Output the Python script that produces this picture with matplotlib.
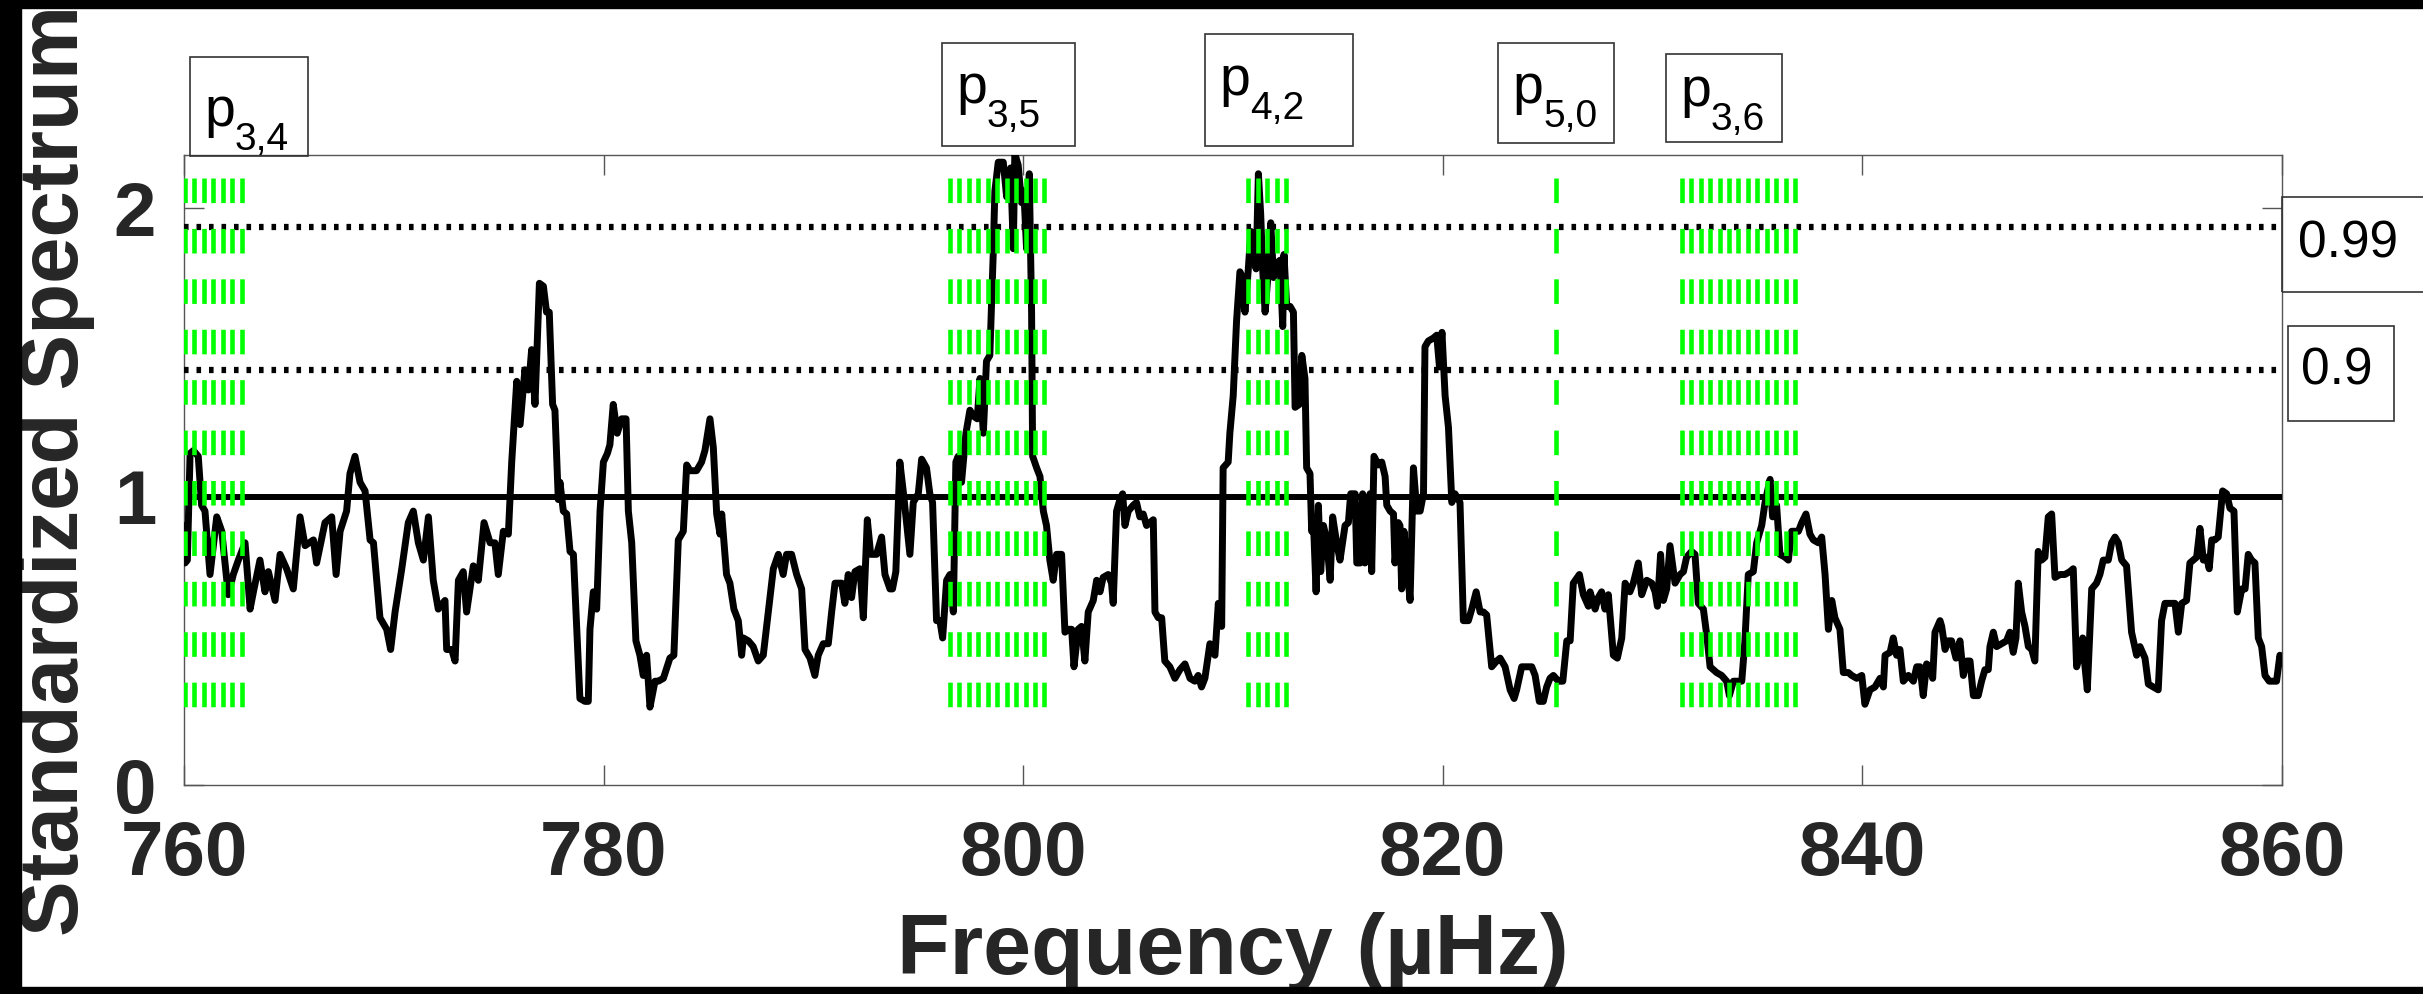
import numpy as np
import matplotlib
matplotlib.use('Agg')
import matplotlib.pyplot as plt
from matplotlib.patches import Rectangle

plt.rcParams['font.family'] = ['Liberation Sans', 'DejaVu Sans']
plt.rcParams['lines.scale_dashes'] = False

# standardized spectrum
freq = [760.00, 760.05, 760.16, 760.29, 760.45, 760.68, 760.84, 761.00, 761.24, 761.56, 761.80, 762.11, 762.35, 762.59,
        762.91, 763.15, 763.31, 763.62, 763.86, 764.02, 764.34, 764.58, 764.89, 765.21, 765.53, 765.77, 766.17, 766.32,
        766.72, 767.04, 767.25, 767.44, 767.75, 767.91, 768.15, 768.39, 768.63, 768.87, 769.03, 769.34, 769.66, 769.85,
        770.06, 770.38, 770.69, 770.93, 771.17, 771.41, 771.65, 771.88, 772.12, 772.44, 772.52, 772.76, 772.92, 773.08,
        773.31, 773.47, 773.79, 774.03, 774.30, 774.59, 774.82, 774.98, 775.22, 775.46, 775.62, 775.86, 776.02, 776.25,
        776.41, 776.57, 776.73, 776.94,
        777.13, 777.28, 777.41, 777.57, 777.68, 777.84, 777.92, 778.08, 778.24, 778.40, 778.56, 778.87, 779.11, 779.27,
        779.35, 779.51, 779.67, 779.83, 779.99, 780.18, 780.30, 780.46, 780.65, 780.86, 781.07, 781.18, 781.34, 781.54,
        781.73, 781.89, 782.05, 782.21, 782.45, 782.61, 782.85, 783.16, 783.35, 783.56, 783.80, 783.96, 784.12, 784.43,
        784.67, 784.83, 785.07, 785.23, 785.39, 785.55, 785.63, 785.86, 786.02, 786.21, 786.42, 786.58, 786.66, 786.90,
        787.13, 787.37, 787.61, 787.85, 788.09, 788.33, 788.56, 788.72, 788.96, 789.20, 789.44, 789.60, 789.84, 790.07,
        790.23, 790.47, 790.71, 790.87, 791.03, 791.35, 791.50, 791.66, 791.82, 791.98, 792.22, 792.38, 792.57, 792.73,
        793.01, 793.25, 793.41, 793.65,
        793.77, 793.93, 794.12, 794.28, 794.44, 794.60, 794.76, 795.00, 795.16, 795.39, 795.55, 795.68, 795.87, 796.03,
        796.16, 796.35, 796.51, 796.67, 796.79, 796.90, 797.06, 797.27, 797.46, 797.62, 797.81, 797.94, 798.10, 798.25,
        798.41, 798.57, 798.65, 798.81, 799.05, 799.21, 799.40, 799.53, 799.60, 799.76, 799.92, 800.03, 800.16, 800.29,
        800.40, 800.45, 800.64, 800.80, 800.96, 801.11, 801.27, 801.43, 801.59, 801.83, 801.99, 802.15, 802.31, 802.42,
        802.62, 802.78, 802.94, 803.10, 803.34, 803.50, 803.66, 803.81, 804.05, 804.21, 804.29, 804.45, 804.61, 804.74,
        804.85, 805.01, 805.24, 805.40, 805.56, 805.72, 805.88, 806.04, 806.20, 806.28, 806.44, 806.60, 806.75, 806.99,
        807.23, 807.47, 807.71, 807.95, 808.18, 808.34, 808.50, 808.66, 808.90, 809.14, 809.30, 809.46, 809.53, 809.77,
        809.85, 810.01, 810.17, 810.33,
        810.46, 810.57, 810.73, 810.85, 810.97, 811.10, 811.21, 811.32, 811.42, 811.53, 811.69, 811.80, 811.93, 812.08,
        812.24, 812.37, 812.43, 812.56, 812.72, 812.88, 812.96, 813.16, 813.28, 813.43, 813.51, 813.67, 813.75, 813.83,
        813.96, 814.07, 814.18, 814.31, 814.47, 814.63, 814.75, 814.94, 815.10, 815.34, 815.50, 815.61, 815.82, 815.90,
        816.06, 816.18, 816.29, 816.53, 816.61, 816.72, 816.93, 817.09, 817.25, 817.33, 817.49, 817.65, 817.72, 817.88,
        817.96, 818.04, 818.15, 818.28, 818.44, 818.60, 818.76, 818.92, 819.08, 819.15, 819.31, 819.55, 819.71, 819.84,
        819.96, 820.11, 820.27, 820.43, 820.58, 820.82, 820.98, 821.22, 821.38, 821.59, 821.78, 821.94, 822.09, 822.33,
        822.57, 822.73, 822.97, 823.21, 823.40, 823.52, 823.76, 824.00, 824.24, 824.40, 824.60, 824.79, 824.95, 825.11,
        825.27, 825.51, 825.72, 825.91, 826.07, 826.22, 826.51, 826.70, 826.94, 827.02,
        827.10, 827.26, 827.41, 827.57, 827.73, 827.89, 828.13, 828.32, 828.53, 828.69, 828.92, 829.08, 829.32, 829.48,
        829.72, 829.96, 830.12, 830.23, 830.38, 830.51, 830.67, 830.83, 831.07, 831.31, 831.47, 831.62, 831.86, 832.02,
        832.18, 832.42, 832.58, 832.74, 833.05, 833.29, 833.53, 833.66, 833.85, 834.09, 834.25, 834.40, 834.56, 834.80,
        834.96, 835.20, 835.36, 835.60, 835.72, 835.91, 836.07, 836.31, 836.47, 836.63, 836.79, 836.95, 837.11, 837.31,
        837.50, 837.66, 837.90, 838.06, 838.22, 838.38, 838.54, 838.69, 838.93, 839.09, 839.33, 839.49, 839.73, 839.97,
        840.12, 840.36, 840.60, 840.84, 841.00, 841.08, 841.32, 841.47, 841.63, 841.79, 841.95, 842.19, 842.43, 842.59,
        842.75, 842.90, 843.06, 843.22, 843.35, 843.46, 843.70,
        843.78, 843.94, 844.09, 844.25, 844.46, 844.65, 844.81, 844.97, 845.13, 845.29, 845.52, 845.68, 845.84, 846.00,
        846.08, 846.24, 846.40, 846.64, 846.87, 847.03, 847.19, 847.32, 847.43, 847.59, 847.75, 847.91, 848.07, 848.22,
        848.38, 848.54, 848.70, 848.86, 849.02, 849.18, 849.42, 849.65, 849.89, 850.05, 850.21, 850.37, 850.50, 850.61,
        850.72, 850.93, 851.16, 851.32, 851.48, 851.72, 851.88, 852.04, 852.20, 852.36, 852.59, 852.83, 853.07, 853.23,
        853.47, 853.63, 853.87, 854.10, 854.26, 854.42, 854.66, 854.90, 855.06, 855.22, 855.45, 855.61, 855.77, 855.93,
        856.09, 856.25, 856.41, 856.53, 856.65, 856.80, 856.96, 857.17, 857.36, 857.52, 857.71, 857.87, 858.08, 858.24,
        858.39, 858.55, 858.71, 858.87, 859.03, 859.19, 859.39, 859.58, 859.74, 859.90, 860.00]

spectrum = [0.90, 0.77, 0.78, 1.15, 1.16, 1.14, 0.97, 0.95, 0.73, 0.93, 0.88, 0.66, 0.73, 0.78,
            0.84, 0.61, 0.67, 0.78, 0.67, 0.74, 0.64, 0.80, 0.75, 0.68, 0.93, 0.83, 0.85, 0.77,
            0.91, 0.93, 0.73, 0.88, 0.95, 1.08, 1.14, 1.05, 1.02, 0.85, 0.84, 0.58, 0.54, 0.47,
            0.60, 0.75, 0.91, 0.95, 0.84, 0.78, 0.93, 0.71, 0.61, 0.64, 0.47, 0.47, 0.43, 0.71,
            0.74, 0.60, 0.76, 0.71, 0.91, 0.84, 0.84, 0.73, 0.88, 0.87, 1.12, 1.40, 1.25, 1.44,
            1.37, 1.51, 1.32, 1.74,
            1.73, 1.64, 1.64, 1.32, 1.30, 0.99, 1.05, 0.95, 0.94, 0.81, 0.80, 0.30, 0.29, 0.29,
            0.54, 0.67, 0.61, 0.95, 1.12, 1.15, 1.18, 1.32, 1.22, 1.27, 1.27, 0.95, 0.84, 0.50,
            0.45, 0.38, 0.45, 0.27, 0.36, 0.36, 0.37, 0.44, 0.45, 0.85, 0.88, 1.11, 1.09, 1.09,
            1.12, 1.16, 1.27, 1.17, 0.94, 0.87, 0.94, 0.73, 0.70, 0.61, 0.57, 0.45, 0.51, 0.50,
            0.48, 0.43, 0.45, 0.60, 0.75, 0.80, 0.73, 0.80, 0.80, 0.73, 0.68, 0.47, 0.44, 0.38,
            0.45, 0.49, 0.49, 0.60, 0.70, 0.70, 0.63, 0.73, 0.65, 0.74, 0.75, 0.58, 0.92, 0.80,
            0.80, 0.86, 0.73, 0.68,
            0.68, 0.74, 1.12, 1.02, 0.91, 0.80, 0.98, 1.01, 1.13, 1.10, 1.01, 0.98, 0.57, 0.57,
            0.51, 0.71, 0.73, 0.60, 1.12, 1.14, 1.05, 1.22, 1.30, 1.28, 1.27, 1.41, 1.22, 1.47,
            1.49, 1.84, 2.06, 2.16, 2.16, 2.04, 2.14, 1.86, 2.19, 2.15, 2.02, 2.06, 1.86, 2.12,
            1.64, 1.14, 1.10, 1.07, 0.95, 0.90, 0.78, 0.71, 0.80, 0.80, 0.53, 0.54, 0.54, 0.41,
            0.54, 0.55, 0.43, 0.60, 0.64, 0.71, 0.67, 0.72, 0.73, 0.70, 0.63, 0.95, 0.99, 1.01,
            0.90, 0.95, 0.97, 0.98, 0.93, 0.94, 0.90, 0.91, 0.92, 0.60, 0.58, 0.58, 0.43, 0.41,
            0.37, 0.40, 0.42, 0.37, 0.36, 0.38, 0.34, 0.37, 0.49, 0.45, 0.63, 0.55, 1.10, 1.12,
            1.22, 1.35, 1.61, 1.78,
            1.76, 1.64, 1.79, 1.92, 1.86, 1.79, 2.12, 1.98, 1.78, 1.64, 1.79, 1.95, 1.76, 1.81,
            1.82, 1.59, 1.84, 1.66, 1.66, 1.64, 1.31, 1.32, 1.49, 1.41, 1.10, 1.08, 0.88, 0.92,
            0.67, 0.97, 0.74, 0.90, 0.85, 0.71, 0.93, 0.84, 0.78, 0.90, 0.91, 1.01, 1.01, 0.77,
            0.77, 1.01, 0.77, 1.01, 0.74, 1.14, 1.11, 1.12, 1.07, 0.97, 0.95, 0.94, 0.77, 0.91,
            0.90, 0.68, 0.88, 0.77, 0.64, 1.10, 0.95, 0.95, 1.01, 1.52, 1.54, 1.55, 1.56, 1.45,
            1.57, 1.35, 1.24, 0.98, 1.01, 0.98, 0.57, 0.57, 0.61, 0.67, 0.60, 0.60, 0.59, 0.41,
            0.43, 0.44, 0.41, 0.33, 0.30, 0.33, 0.41, 0.41, 0.41, 0.38, 0.29, 0.29, 0.34, 0.37,
            0.38, 0.36, 0.36, 0.50, 0.50, 0.70, 0.73, 0.66, 0.62, 0.67,
            0.65, 0.61, 0.65, 0.67, 0.61, 0.66, 0.45, 0.44, 0.51, 0.70, 0.67, 0.70, 0.77, 0.66,
            0.71, 0.70, 0.67, 0.62, 0.80, 0.64, 0.68, 0.83, 0.70, 0.73, 0.74, 0.79, 0.81, 0.80,
            0.63, 0.61, 0.52, 0.41, 0.39, 0.38, 0.36, 0.31, 0.36, 0.36, 0.36, 0.50, 0.73, 0.74,
            0.84, 0.90, 0.98, 1.06, 0.93, 0.97, 0.80, 0.79, 0.78, 0.88, 0.88, 0.88, 0.91, 0.94,
            0.87, 0.85, 0.84, 0.86, 0.73, 0.54, 0.64, 0.58, 0.54, 0.39, 0.39, 0.38, 0.37, 0.38,
            0.28, 0.33, 0.34, 0.37, 0.34, 0.45, 0.46, 0.51, 0.45, 0.47, 0.36, 0.38, 0.36, 0.41,
            0.41, 0.31, 0.42, 0.41, 0.37, 0.53, 0.57,
            0.55, 0.47, 0.50, 0.50, 0.44, 0.50, 0.38, 0.43, 0.43, 0.31, 0.31, 0.36, 0.40, 0.40,
            0.48, 0.53, 0.48, 0.49, 0.50, 0.53, 0.46, 0.51, 0.70, 0.60, 0.55, 0.48, 0.47, 0.43,
            0.81, 0.78, 0.79, 0.93, 0.94, 0.72, 0.73, 0.73, 0.74, 0.75, 0.41, 0.45, 0.51, 0.41,
            0.33, 0.68, 0.70, 0.73, 0.78, 0.78, 0.84, 0.86, 0.84, 0.78, 0.76, 0.53, 0.45, 0.48,
            0.44, 0.35, 0.34, 0.33, 0.57, 0.63, 0.63, 0.63, 0.53, 0.63, 0.64, 0.77, 0.78, 0.79,
            0.89, 0.78, 0.79, 0.75, 0.85, 0.85, 0.86, 1.02, 1.01, 0.96, 0.95, 0.60, 0.68, 0.68,
            0.80, 0.78, 0.77, 0.51, 0.48, 0.38, 0.36, 0.36, 0.36, 0.45, 0.43]

# significance levels
level_values = [1.934, 1.439]
level_labels = ['0.99', '0.9']

# candidate modes: first marker frequency and number of markers
mode_names = ['3,4', '3,5', '4,2', '5,0', '3,6']
mode_start = [760.05, 796.51, 810.73, 825.41, 831.39]
mode_count = [7, 11, 5, 1, 13]
marker_step = 0.45
marker_top = 2.105
marker_bottom = 0.267

W, H = 2423, 994
fig = plt.figure(figsize=(W / 100, H / 100), dpi=100)
ax = fig.add_axes([184 / W, 1 - 785 / H, 2098 / W, 630 / H])

text_col = '#262626'
frame_col = '#555555'

ax.plot(freq, spectrum, color='black', lw=5, solid_joinstyle='round', zorder=3)
ax.axhline(1, color='black', lw=4.3, zorder=3)
for lev in level_values:
    ax.axhline(lev, color='black', lw=4.5, linestyle=(0, (3.3, 5.7)), zorder=3)

for start, count in zip(mode_start, mode_count):
    for k in range(count):
        f = start + k * marker_step
        ax.plot([f, f], [marker_top, marker_bottom], color='#00ff00', lw=3.3,
                linestyle=(0, (17.7, 18.6)), zorder=4)

ax.set_xlim(760, 860)
ax.set_ylim(0, 2.185)
ax.set_xticks([760, 780, 800, 820, 840, 860])
ax.set_yticks([0, 1, 2])
ax.tick_params(direction='in', top=True, right=True, length=14.5, width=1,
               color=frame_col, labelsize=55, labelcolor=text_col)
ax.tick_params(axis='x', pad=25)
ax.tick_params(axis='y', pad=20)
for lab in ax.get_xticklabels() + ax.get_yticklabels():
    lab.set_fontweight('bold')
for sp in ax.spines.values():
    sp.set_color(frame_col)
    sp.set_linewidth(1.0)

ax.set_xlabel('Frequency (µHz)', fontsize=62, fontweight='bold', color=text_col)
ax.xaxis.set_label_coords(0.5, (785 - 912) / 630)
ax.set_ylabel('Standardized Spectrum', fontsize=60, fontweight='bold', color=text_col)
ax.yaxis.set_label_coords((95 - 184) / 2098, 0.5)


def fig_box(x0, y0, x1, y1):
    fig.patches.append(Rectangle((x0 / W, 1 - y1 / H), (x1 - x0) / W, (y1 - y0) / H,
                                 transform=fig.transFigure, fill=False,
                                 edgecolor='#333333', lw=1.2, zorder=5))


# mode label boxes (pixel layout) and text baselines
mode_boxes = [(190, 57, 308, 156), (942, 43, 1075, 146), (1205, 34, 1353, 146),
              (1498, 43, 1614, 143), (1666, 54, 1782, 142)]
mode_base = [126, 103, 95, 103, 106]
for name, (x0, y0, x1, y1), yb in zip(mode_names, mode_boxes, mode_base):
    fig_box(x0, y0, x1, y1)
    fig.text((x0 + 14) / W, 1 - yb / H, 'p', fontsize=40, ha='left', va='baseline', color='black')
    fig.text((x0 + 45) / W, 1 - (yb + 24) / H, name, fontsize=28, ha='left', va='baseline', color='black')

level_boxes = [(2282, 197, 2430, 292), (2288, 326, 2394, 421)]
level_text = [(2298, 257), (2301, 385)]
for lab, (x0, y0, x1, y1), (tx, ty) in zip(level_labels, level_boxes, level_text):
    fig_box(x0, y0, x1, y1)
    fig.text(tx / W, 1 - ty / H, lab, fontsize=37, ha='left', va='baseline', color='black')

# black screenshot border
for (x0, y0, x1, y1) in [(0, 0, W, 8), (0, 0, 21, H), (0, 987, W, H)]:
    fig.patches.append(Rectangle((x0 / W, 1 - y1 / H), (x1 - x0) / W, (y1 - y0) / H,
                                 transform=fig.transFigure, color='black', zorder=20))

fig.savefig('out.png', dpi=100)
